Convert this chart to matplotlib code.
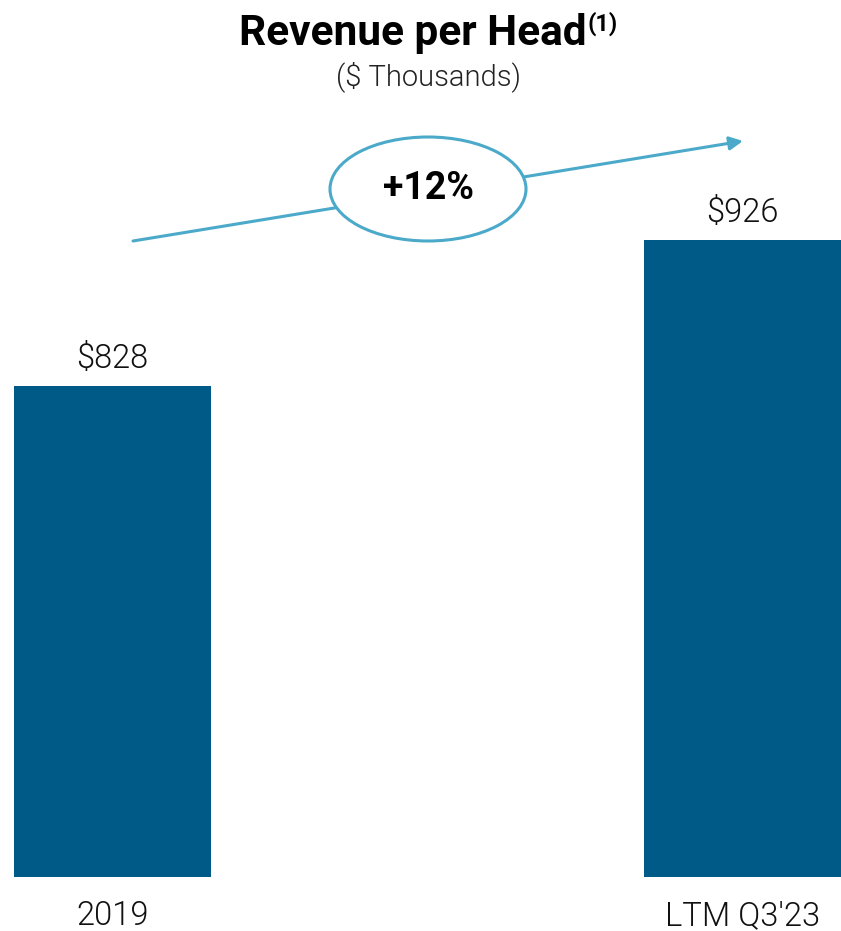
import matplotlib
matplotlib.use("Agg")
import matplotlib.pyplot as plt
from matplotlib.patches import Ellipse, FancyArrowPatch

plt.rcParams['font.family'] = ['Roboto', 'DejaVu Sans']

categories = ["2019", "LTM Q3'23"]
values = [828, 926]
growth_label = "+12%"

BAR_COLOR = "#005a87"
ACCENT = "#4ba9c9"

W, H = 841, 931
fig = plt.figure(figsize=(W / 100, H / 100), dpi=100)
fig.patch.set_facecolor("white")

# axes spanning the bar region (pixel-based placement)
ax_left, ax_right, ax_bottom, ax_top = 14, 841, 877, 100
ax = fig.add_axes([ax_left / W, 1 - ax_bottom / H,
                   (ax_right - ax_left) / W, (ax_bottom - ax_top) / H])

bar_w = 0.3125
xs = list(range(len(categories)))
ax.bar(xs, values, width=bar_w, color=BAR_COLOR, bottom=0)
ax.set_xlim(-bar_w / 2, 1 + bar_w / 2)
y0 = 498
ax.set_ylim(y0, y0 + (ax_bottom - ax_top) / 1.488)

for x, v in zip(xs, values):
    ax.annotate(f"${v}", (x, v), xytext=(0, 13), textcoords="offset points",
                ha="center", va="baseline", fontsize=23.5, fontweight=300,
                color="#111111")

ax.set_xticks(xs)
ax.set_xticklabels(categories, fontsize=23.5, fontweight=300, color="#111111")
ax.tick_params(axis="x", length=0, pad=16.5)
ax.set_yticks([])
for s in ax.spines.values():
    s.set_visible(False)

# title with superscript footnote marker
cx = 428 / W
title = fig.text(cx, 1 - 33 / H, "Revenue per Head", ha="center", va="center",
                 fontsize=30.5, fontweight="bold", color="black")
fig.canvas.draw()
bb = title.get_window_extent()
sup = fig.text(0, 0, "(1)", fontsize=17, fontweight="bold", color="black",
               ha="left", va="top")
fig.canvas.draw()
sb = sup.get_window_extent()
shift = sb.width / 2
title.set_x((bb.x0 + bb.width / 2 - shift) / W)
fig.canvas.draw()
bb = title.get_window_extent()
sup.set_position(((bb.x1 + 1) / W, 1 - 12 / H))

fig.text(cx, 1 - 77 / H, "($ Thousands)", ha="center", va="center",
         fontsize=21, fontweight=300, color="#222222")

# growth arrow with ellipse badge
arrow = FancyArrowPatch((133 / W, 1 - 241 / H), (743 / W, 1 - 141 / H),
                        transform=fig.transFigure, arrowstyle="-|>",
                        mutation_scale=20, color=ACCENT, lw=2.2,
                        shrinkA=0, shrinkB=0)
fig.add_artist(arrow)
ell = Ellipse((428 / W, 1 - 189 / H), 196 / W, 104 / H,
              transform=fig.transFigure, facecolor="white",
              edgecolor=ACCENT, lw=2.2, zorder=3)
fig.add_artist(ell)
fig.text(428 / W, 1 - 189 / H, growth_label, ha="center", va="center",
         fontsize=27, fontweight="bold", color="black", zorder=4)

fig.savefig("out.png", dpi=100, facecolor="white")
